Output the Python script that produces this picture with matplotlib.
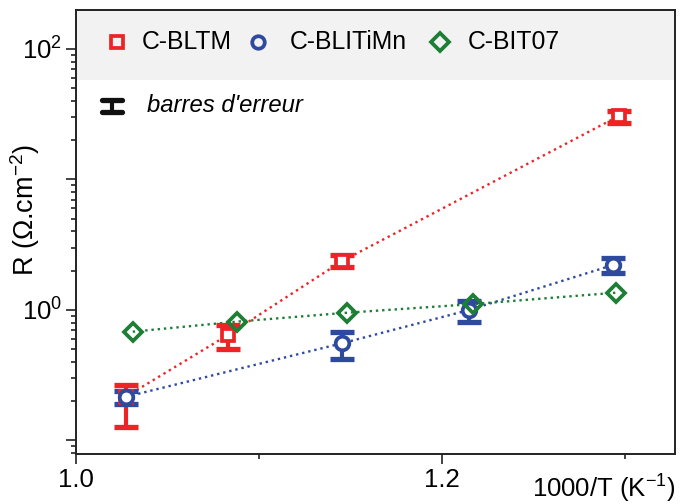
import matplotlib
matplotlib.use('Agg')
import matplotlib.pyplot as plt
import numpy as np
from matplotlib.ticker import FixedLocator, FixedFormatter, NullFormatter
from matplotlib.patches import Rectangle
from matplotlib.lines import Line2D

plt.rcParams['font.family'] = ['Liberation Sans', 'DejaVu Sans']
plt.rcParams['mathtext.fontset'] = 'custom'
plt.rcParams['mathtext.rm'] = 'Liberation Sans'
plt.rcParams['mathtext.it'] = 'Liberation Sans:italic'
plt.rcParams['mathtext.bf'] = 'Liberation Sans:bold'

# ---- data ----
series_names = ['C-BLTM', 'C-BLITiMn', 'C-BIT07']
error_label = "barres d'erreur"

bltm_x = [1.0273, 1.0830, 1.1454, 1.2967]
bltm_y = [0.217, 0.643, 2.37, 30.7]
bltm_lo = [0.127, 0.503, 2.12, 27.2]
bltm_hi = [0.266, 0.768, 2.64, 33.7]

blitimn_x = [1.0273, 1.1454, 1.2148, 1.2934]
blitimn_y = [0.216, 0.556, 1.00, 2.21]
blitimn_lo = [0.190, 0.419, 0.814, 1.91]
blitimn_hi = [0.241, 0.675, 1.17, 2.49]

bit07_x = [1.0310, 1.0878, 1.1480, 1.2171, 1.2950]
bit07_y = [0.682, 0.814, 0.953, 1.11, 1.357]

x_major = [1.0, 1.2]
x_major_labels = ['1.0', '1.2']
x_minor = [1.1, 1.3]
y_major = [0.1, 1, 10, 100]
y_major_labels = ['', '$10^{0}$', '', '$10^{2}$']

RED = '#EE2326'
BLUE = '#2E4A9F'
GREEN = '#1D7E36'

fig = plt.figure(figsize=(6.8, 5.04), dpi=100)
ax = fig.add_axes([0.1118, 0.0992, 0.8808, 0.881])
ax.set_yscale('log')
ax.set_xlim(1.0, 1.3273)
ax.set_ylim(0.0788, 199)

# legend band
ax.add_patch(Rectangle((0, 0.8423), 1, 0.1577, transform=ax.transAxes,
                       facecolor='#f2f2f2', edgecolor='none', zorder=0.5))

def draw_series(x, y, color, marker, ms, lo=None, hi=None, face='white'):
    x = np.array(x); y = np.array(y)
    ax.plot(x, y, ls=':', color=color, lw=1.7, zorder=2)
    if lo is not None:
        lo = np.array(lo); hi = np.array(hi)
        ax.errorbar(x, y, yerr=[y - lo, hi - y], fmt='none', ecolor=color,
                    elinewidth=3.0, capsize=8.7, capthick=3.8, zorder=3)
    ax.plot(x, y, ls='none', marker=marker, ms=ms, mfc=face, mec=color,
            mew=2.7, zorder=4)

draw_series(bltm_x, bltm_y, RED, 's', 8.5, bltm_lo, bltm_hi)
draw_series(blitimn_x, blitimn_y, BLUE, 'o', 9.8, blitimn_lo, blitimn_hi)
draw_series(bit07_x, bit07_y, GREEN, 'D', 9.5, face='none')

# legend row (top band)
leg_y = 0.9286
legend_items = [(0.068, 0.1097, 's', 8.5, RED),
                (0.3038, 0.357, 'o', 9.0, BLUE),
                (0.6077, 0.6544, 'D', 9.5, GREEN)]
for (mx, tx, mk, ms, col), name in zip(legend_items, series_names):
    ax.plot([mx], [leg_y], transform=ax.transAxes, marker=mk, ms=ms, mfc='none',
            mec=col, mew=2.7, ls='none', clip_on=False, zorder=5)
    ax.text(tx, leg_y, name, transform=ax.transAxes, fontsize=17.8,
            va='center', ha='left', zorder=5)

# error bar legend symbol
ex, ey = 0.060, 0.784
dx, dy = 0.0165, 0.0135
for xs, ys, lw in [([ex - dx, ex + dx], [ey + dy, ey + dy], 3.8),
                   ([ex - dx, ex + dx], [ey - dy, ey - dy], 3.8),
                   ([ex, ex], [ey - dy, ey + dy], 3.0)]:
    ax.add_line(Line2D(xs, ys, transform=ax.transAxes, color='#111111', lw=lw,
                       solid_capstyle='round', zorder=5))
ax.text(0.118, ey, error_label, transform=ax.transAxes, fontsize=17.2,
        style='italic', va='center', ha='left', zorder=5)

# ticks
ax.xaxis.set_major_locator(FixedLocator(x_major))
ax.xaxis.set_major_formatter(FixedFormatter(x_major_labels))
ax.xaxis.set_minor_locator(FixedLocator(x_minor))
ax.yaxis.set_major_locator(FixedLocator(y_major))
ax.yaxis.set_major_formatter(FixedFormatter(y_major_labels))
minor_y = [m * 10.0 ** e for e in range(-2, 3) for m in range(2, 10)]
ax.yaxis.set_minor_locator(FixedLocator(minor_y))
ax.yaxis.set_minor_formatter(NullFormatter())

ax.tick_params(which='major', direction='out', length=7, width=1.2,
               labelsize=18.5, pad=3, color='#222222')
ax.tick_params(which='minor', direction='out', length=3.6, width=1.2,
               color='#222222')
ax.tick_params(top=False, right=False)
for s in ax.spines.values():
    s.set_linewidth(1.4)
    s.set_color('#222222')

ax.set_ylabel('R ($\\Omega$.cm$^{-2}$)', fontsize=19.5)
ax.yaxis.set_label_coords(-0.056, 0.55)
fig.text(0.993, 0.012, '1000/T (K$^{-1}$)', ha='right', va='baseline',
         fontsize=18.5)

fig.savefig('out.png', dpi=100, facecolor='white')
